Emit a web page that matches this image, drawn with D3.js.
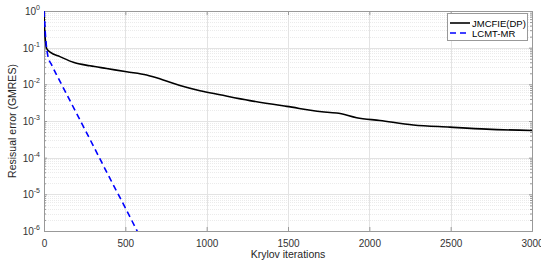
<!DOCTYPE html>
<html>
<head>
<meta charset="utf-8">
<script src="https://cdn.jsdelivr.net/npm/d3@7"></script>
<style>
  body { margin: 0; background: #fff; }
  svg { font-family: "Liberation Sans", Arial, sans-serif; }
</style>
</head>
<body>
<svg id="chart" width="541" height="264"></svg>
<script>
// values
const jmcIter = [0, 2, 5, 10, 16, 40, 98, 180, 283, 385, 508, 631, 733, 836, 959, 1082, 1266, 1492, 1758, 1799, 1922, 2065, 2270, 2495, 2721, 3000];
const jmcRes = [1, 0.5, 0.25, 0.14, 0.095, 0.074, 0.057, 0.040, 0.032, 0.027, 0.022, 0.018, 0.0132, 0.0093, 0.0067, 0.0052, 0.0036, 0.0025, 0.0017, 0.00166, 0.00123, 0.00103, 0.00078, 0.00068, 0.0006, 0.00055];

const lcmtIter = [0, 4, 8, 14, 25, 47, 100, 200, 300, 400, 500, 575];
const lcmtRes = [1, 0.5, 0.25, 0.12, 0.056, 0.034, 0.0117, 0.00162, 0.000224, 0.0000302, 0.00000427, 0.00000095];

const xTicks = [0, 500, 1000, 1500, 2000, 2500, 3000];
const yExps = [0, -1, -2, -3, -4, -5, -6];

const svg = d3.select("#chart");
const mLeft = 44, mRight = 532, mTop = 11, mBottom = 231;

const x = d3.scaleLinear().domain([0, 3000]).range([mLeft, mRight]);
const y = d3.scaleLog().domain([1e-6, 1]).range([mBottom, mTop]);

// clip
svg.append("clipPath").attr("id", "clip")
  .append("rect").attr("x", mLeft).attr("y", mTop).attr("width", mRight - mLeft).attr("height", mBottom - mTop);

// minor grid
const minor = [];
yExps.slice(1).forEach(e => { for (let k = 2; k <= 9; k++) minor.push(k * Math.pow(10, e)); });
svg.append("g").selectAll("line").data(minor).enter().append("line")
  .attr("x1", mLeft).attr("x2", mRight)
  .attr("y1", d => Math.round(y(d)) + 0.5).attr("y2", d => Math.round(y(d)) + 0.5)
  .attr("stroke", "#ebebeb").attr("stroke-dasharray", "1,1");

// major grid
svg.append("g").selectAll("line").data(yExps).enter().append("line")
  .attr("x1", mLeft).attr("x2", mRight)
  .attr("y1", d => Math.round(y(Math.pow(10, d))) + 0.5).attr("y2", d => Math.round(y(Math.pow(10, d))) + 0.5)
  .attr("stroke", "#e3e3e3");
svg.append("g").selectAll("line").data(xTicks).enter().append("line")
  .attr("y1", mTop).attr("y2", mBottom)
  .attr("x1", d => Math.round(x(d)) + 0.5).attr("x2", d => Math.round(x(d)) + 0.5)
  .attr("stroke", "#e3e3e3");

// axes
const xAxis = d3.axisBottom(x).tickValues(xTicks).tickSize(-4).tickPadding(9).tickFormat(d3.format("d"));
const gx = svg.append("g").attr("transform", `translate(0,${mBottom})`).call(xAxis);
const xAxisTop = d3.axisTop(x).tickValues(xTicks).tickSize(-4).tickFormat("");
const gxt = svg.append("g").attr("transform", `translate(0,${mTop})`).call(xAxisTop);

const yAll = minor.concat(yExps.map(e => Math.pow(10, e)));
const gy = svg.append("g").attr("transform", `translate(${mLeft},0)`)
  .call(d3.axisLeft(y).tickValues(yAll).tickSize(-3).tickFormat(""));
const gyr = svg.append("g").attr("transform", `translate(${mRight},0)`)
  .call(d3.axisRight(y).tickValues(yAll).tickSize(-3).tickFormat(""));

[gx, gxt, gy, gyr].forEach(g => {
  g.selectAll("path").attr("stroke", "#999");
  g.selectAll("line").attr("stroke", "#999");
  g.selectAll("text").attr("fill", "#333").style("font-size", "10px");
});
const isMajor = d => yExps.some(e => Math.abs(Math.log10(d) - e) < 1e-9);
gy.selectAll(".tick line").filter(d => !isMajor(d)).attr("x2", 2);
gyr.selectAll(".tick line").filter(d => !isMajor(d)).attr("x2", -2);

// y tick labels as 10^e
const yl = svg.append("g").selectAll("text").data(yExps).enter().append("text")
  .attr("x", mLeft - 4).attr("y", d => y(Math.pow(10, d)) + 4)
  .attr("text-anchor", "end").attr("fill", "#333").style("font-size", "10px");
yl.append("tspan").text("10");
yl.append("tspan").attr("dy", -5).style("font-size", "7px").text(d => d);

// labels
svg.append("text").attr("x", (mLeft + mRight) / 2).attr("y", 258).attr("text-anchor", "middle")
  .attr("fill", "#262626").style("font-size", "10.5px").text("Krylov iterations");
svg.append("text").attr("transform", `translate(16,${(mTop + mBottom) / 2}) rotate(-90)`)
  .attr("text-anchor", "middle").attr("fill", "#262626").style("font-size", "10.5px").text("Resisual error (GMRES)");

// lines
const jmc = jmcIter.map((d, i) => [d, jmcRes[i]]);
const lcmt = lcmtIter.map((d, i) => [d, lcmtRes[i]]);
const line = d3.line().x(d => x(d[0])).y(d => y(d[1])).curve(d3.curveMonotoneX);

const plot = svg.append("g").attr("clip-path", "url(#clip)");
plot.append("path").datum(jmc).attr("d", line).attr("fill", "none")
  .attr("stroke", "#000").attr("stroke-width", 1.6);
plot.append("path").datum(lcmt).attr("d", line).attr("fill", "none")
  .attr("stroke", "#0000ff").attr("stroke-width", 1.6).attr("stroke-dasharray", "6,4");

// legend
const lg = svg.append("g");
lg.append("rect").attr("x", 447.5).attr("y", 13.5).attr("width", 80).attr("height", 27)
  .attr("fill", "#fff").attr("stroke", "#999");
const items = [["JMCFIE(DP)", "#000", null], ["LCMT-MR", "#0000ff", "6,4"]];
items.forEach((it, i) => {
  const yy = 23 + i * 10;
  lg.append("line").attr("x1", 450).attr("x2", 470).attr("y1", yy).attr("y2", yy)
    .attr("stroke", it[1]).attr("stroke-width", 1.6).attr("stroke-dasharray", it[2]);
  lg.append("text").attr("x", 472).attr("y", yy + 3.5).attr("fill", "#000")
    .style("font-size", "9.5px").text(it[0]);
});
</script>
</body>
</html>
